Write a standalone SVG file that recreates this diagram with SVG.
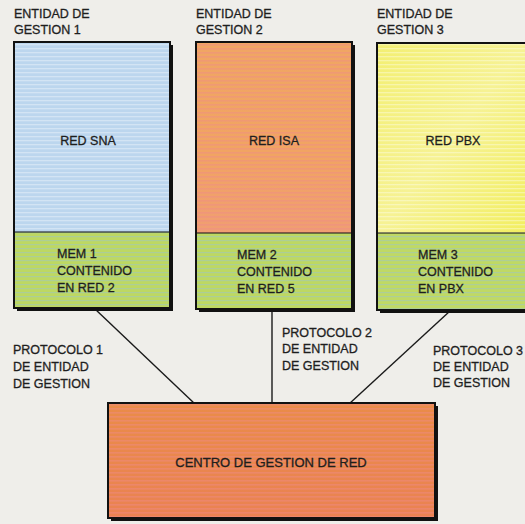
<svg xmlns="http://www.w3.org/2000/svg" width="525" height="524" viewBox="0 0 525 524">
<defs>
<pattern id="stripes" width="6" height="4" patternUnits="userSpaceOnUse">
<rect x="0" y="0" width="6" height="1.3" fill="#ffffff" opacity="0.35"/>
</pattern>
<pattern id="stripesPink" width="6" height="4" patternUnits="userSpaceOnUse">
<rect x="0" y="0" width="6" height="1.6" fill="#f08a8a" opacity="0.45"/>
</pattern>
<pattern id="stripesBlue" width="6" height="4" patternUnits="userSpaceOnUse">
<rect x="0" y="0" width="6" height="1.2" fill="#9cc4cc" opacity="0.5"/>
</pattern>
<linearGradient id="gOrange" x1="0" y1="0" x2="0" y2="1">
<stop offset="0" stop-color="#f0a663"/>
<stop offset="0.6" stop-color="#f1a462"/>
<stop offset="1" stop-color="#f09e72"/>
</linearGradient>
<linearGradient id="gYellow" x1="0" y1="0" x2="1" y2="1">
<stop offset="0" stop-color="#f3ef72"/>
<stop offset="0.5" stop-color="#f6f294"/>
<stop offset="1" stop-color="#f2ee60"/>
</linearGradient>
<linearGradient id="gRed" x1="0" y1="0" x2="0" y2="1">
<stop offset="0" stop-color="#ea8c48"/>
<stop offset="1" stop-color="#ea8252"/>
</linearGradient>
</defs>
<style>
text{font-family:"Liberation Sans",Arial,sans-serif;font-size:12.5px;fill:#1e1e1e;stroke:#1e1e1e;stroke-width:0.3}
.c{text-anchor:middle}
.shadow{fill:#111}
.frame{fill:none;stroke:#111;stroke-width:2}
.conn{stroke:#1a1a1a;stroke-width:1.4;fill:none}
</style>
<rect x="0" y="0" width="525" height="524" fill="#efeeea"/>

<g id="connectors">
<line class="conn" x1="95" y1="309" x2="195" y2="404"/>
<line class="conn" x1="272" y1="310" x2="272" y2="404"/>
<line class="conn" x1="450" y1="311" x2="349" y2="404"/>
</g>

<g id="entidad1">
<text x="14" y="18">ENTIDAD DE</text>
<text x="14" y="34">GESTION 1</text>
<rect class="shadow" x="17" y="45" width="156" height="266"/>
<rect x="14" y="42" width="156" height="190" fill="#bcd6ee"/>
<rect x="14" y="42" width="156" height="190" fill="url(#stripes)"/>
<rect x="14" y="232" width="156" height="76" fill="#bdd862"/>
<rect x="14" y="232" width="156" height="76" fill="url(#stripesBlue)"/>
<rect class="frame" x="14" y="42" width="156" height="266"/>
<line x1="14" y1="232" x2="170" y2="232" stroke="#111" stroke-width="1.2"/>
<text class="c" x="88" y="145">RED SNA</text>
<text x="57" y="258">MEM 1</text>
<text x="57" y="275">CONTENIDO</text>
<text x="57" y="292">EN RED 2</text>
</g>

<g id="entidad2">
<text x="196" y="18">ENTIDAD DE</text>
<text x="196" y="34">GESTION 2</text>
<rect class="shadow" x="199" y="45" width="156" height="267"/>
<rect x="196" y="42" width="156" height="191" fill="url(#gOrange)"/>
<rect x="196" y="42" width="156" height="191" fill="url(#stripesPink)"/>
<rect x="196" y="233" width="156" height="76" fill="#bdd862"/>
<rect x="196" y="233" width="156" height="76" fill="url(#stripesBlue)"/>
<rect class="frame" x="196" y="42" width="156" height="267"/>
<line x1="196" y1="233" x2="352" y2="233" stroke="#111" stroke-width="1.2"/>
<text class="c" x="274" y="145">RED ISA</text>
<text x="237" y="259">MEM 2</text>
<text x="237" y="276">CONTENIDO</text>
<text x="237" y="293">EN RED 5</text>
</g>

<g id="entidad3">
<text x="377" y="18">ENTIDAD DE</text>
<text x="377" y="34">GESTION 3</text>
<rect class="shadow" x="380" y="46" width="150" height="267"/>
<rect x="377" y="43" width="150" height="190" fill="url(#gYellow)"/>
<rect x="377" y="43" width="150" height="190" fill="url(#stripes)"/>
<rect x="377" y="233" width="150" height="77" fill="#bfd964"/>
<rect x="377" y="233" width="150" height="77" fill="url(#stripesBlue)"/>
<rect class="frame" x="377" y="43" width="152" height="267"/>
<line x1="377" y1="233" x2="527" y2="233" stroke="#111" stroke-width="1.2"/>
<text class="c" x="453" y="145">RED PBX</text>
<text x="418" y="259">MEM 3</text>
<text x="418" y="276">CONTENIDO</text>
<text x="418" y="293">EN PBX</text>
</g>

<g id="protocolo1">
<text x="13" y="354">PROTOCOLO 1</text>
<text x="13" y="371">DE ENTIDAD</text>
<text x="13" y="388">DE GESTION</text>
</g>
<g id="protocolo2">
<text x="282" y="337">PROTOCOLO 2</text>
<text x="282" y="353">DE ENTIDAD</text>
<text x="282" y="370">DE GESTION</text>
</g>
<g id="protocolo3">
<text x="433" y="355">PROTOCOLO 3</text>
<text x="433" y="371">DE ENTIDAD</text>
<text x="433" y="387">DE GESTION</text>
</g>

<g id="centro">
<rect class="shadow" x="111" y="406" width="327" height="115"/>
<rect x="108" y="403" width="327" height="115" fill="url(#gRed)"/>
<rect x="108" y="403" width="327" height="115" fill="url(#stripesPink)"/>
<rect class="frame" x="108" y="403" width="327" height="115"/>
<text class="c" x="271" y="467" style="font-size:13px">CENTRO DE GESTION DE RED</text>
</g>
</svg>
